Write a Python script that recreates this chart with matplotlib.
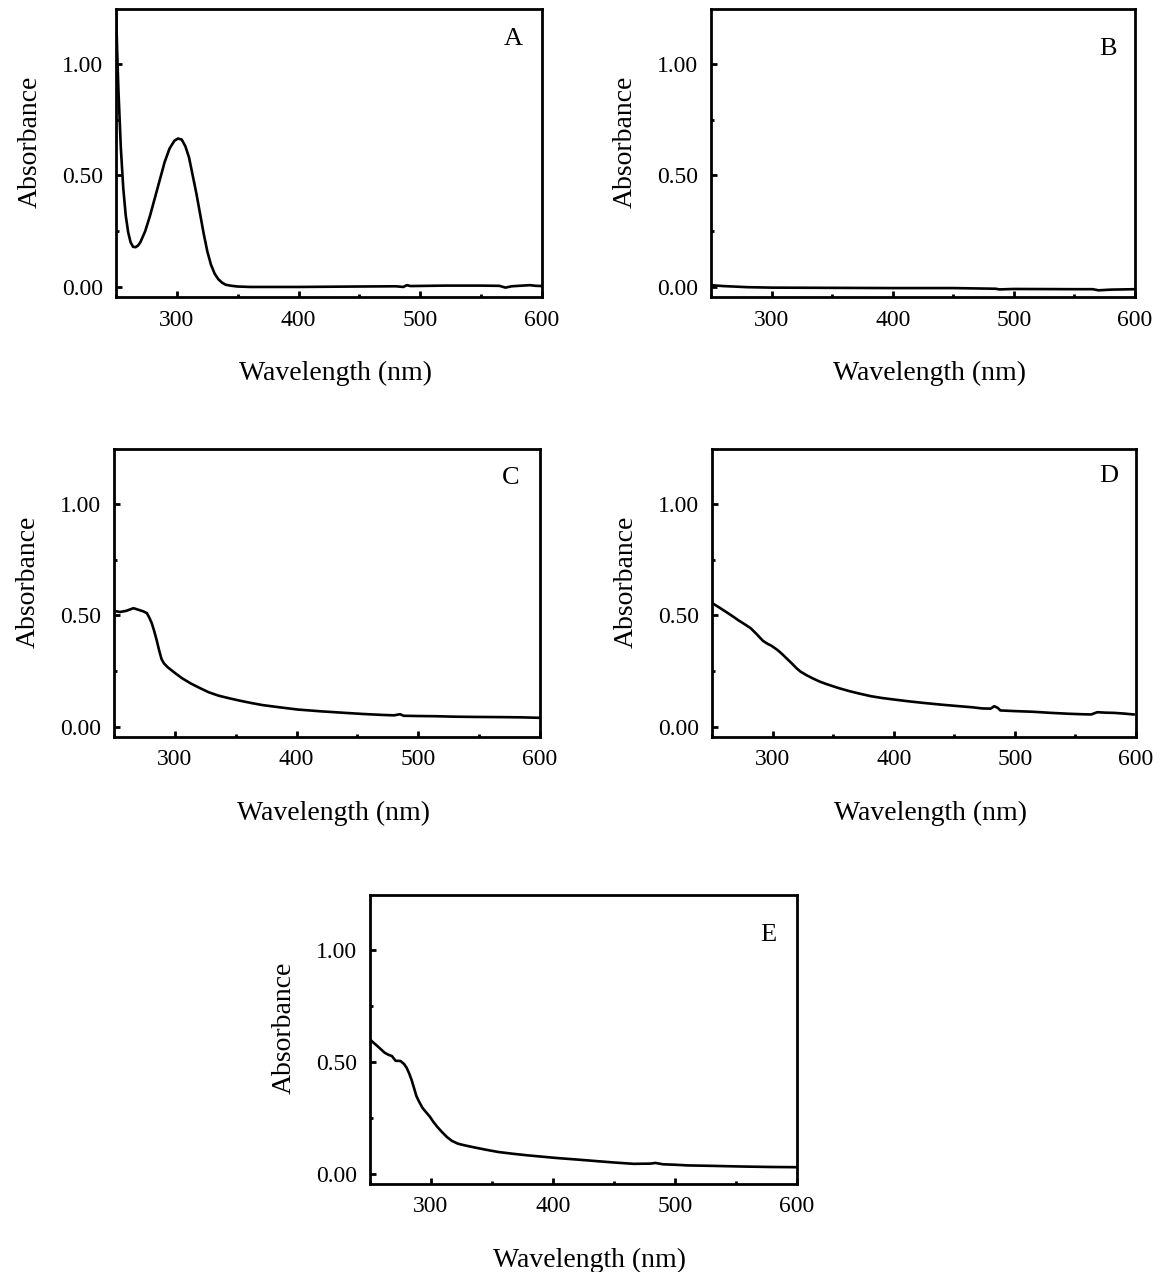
import matplotlib
matplotlib.use("Agg")
import matplotlib.pyplot as plt
from matplotlib.ticker import MultipleLocator, FormatStrFormatter

plt.rcParams['font.family'] = ['Liberation Serif', 'DejaVu Serif']

# ---- Data ----
wl_a = [250, 251, 252, 254, 256, 258, 260, 262, 264, 266, 268, 270, 274, 278, 282, 286,
        290, 294, 298, 301, 304, 307, 310, 313, 316, 319, 322, 325, 328, 331, 334, 337,
        340, 345, 350, 360, 400, 450, 480, 486, 489, 492, 520, 550, 565, 570, 575, 590, 595, 600]
abs_a = [1.25, 1.05, 0.88, 0.62, 0.44, 0.32, 0.245, 0.20, 0.18, 0.178, 0.185, 0.20, 0.25, 0.32,
         0.40, 0.48, 0.56, 0.62, 0.655, 0.665, 0.66, 0.63, 0.58, 0.50, 0.42, 0.33, 0.24, 0.16,
         0.10, 0.06, 0.035, 0.02, 0.01, 0.005, 0.002, 0.0, 0.0, 0.002, 0.003, 0.0, 0.008, 0.004,
         0.006, 0.006, 0.005, -0.003, 0.003, 0.008, 0.005, 0.004]

wl_b = [250, 260, 280, 300, 350, 400, 450, 485, 488, 500, 550, 565, 570, 580, 600]
abs_b = [0.008, 0.004, -0.001, -0.003, -0.004, -0.005, -0.005, -0.008, -0.011, -0.009,
         -0.010, -0.010, -0.015, -0.012, -0.010]

wl_c = [250, 255, 260, 264, 266, 270, 274, 277, 279, 281, 283, 285, 287, 289, 291, 294, 297,
        301, 306, 313, 321, 328, 336, 345, 354, 363, 372, 386, 401, 420, 440, 455, 470, 480,
        485, 488, 500, 515, 530, 545, 570, 585, 599]
abs_c = [0.52, 0.515, 0.52, 0.528, 0.532, 0.525, 0.518, 0.51, 0.49, 0.465, 0.43, 0.39, 0.345,
         0.305, 0.285, 0.268, 0.255, 0.238, 0.218, 0.195, 0.173, 0.155, 0.140, 0.128, 0.117,
         0.107, 0.098, 0.088, 0.078, 0.070, 0.063, 0.058, 0.054, 0.052, 0.057, 0.050, 0.049,
         0.048, 0.046, 0.045, 0.044, 0.043, 0.041]

wl_d = [251, 256, 262, 267, 272, 277, 282, 287, 292, 296, 299, 304, 308, 312, 316, 320, 323,
        328, 333, 339, 345, 354, 363, 372, 381, 390, 400, 412, 424, 439, 454, 465, 473, 480,
        483, 486, 488, 500, 515, 530, 545, 555, 563, 568, 575, 582, 590, 598]
abs_d = [0.552, 0.535, 0.514, 0.496, 0.477, 0.46, 0.442, 0.415, 0.386, 0.372, 0.364, 0.345,
         0.326, 0.305, 0.284, 0.262, 0.248, 0.232, 0.218, 0.203, 0.191, 0.175, 0.161, 0.149,
         0.138, 0.130, 0.123, 0.115, 0.108, 0.100, 0.093, 0.088, 0.083, 0.082, 0.093, 0.085,
         0.074, 0.071, 0.068, 0.063, 0.059, 0.057, 0.056, 0.066, 0.064, 0.063, 0.060, 0.056]

wl_e = [250, 253, 256, 259, 262, 265, 268, 271, 275, 278, 280, 282, 284, 286, 288, 290, 293,
        296, 299, 302, 305, 309, 313, 317, 322, 328, 334, 345, 355, 367, 379, 391, 403, 420,
        436, 450, 466, 480, 484, 490, 500, 510, 530, 555, 578, 600]
abs_e = [0.60, 0.585, 0.571, 0.556, 0.541, 0.532, 0.526, 0.505, 0.504, 0.49, 0.474, 0.45,
         0.421, 0.385, 0.348, 0.325, 0.295, 0.275, 0.256, 0.232, 0.211, 0.187, 0.165, 0.148,
         0.135, 0.127, 0.12, 0.108, 0.098, 0.090, 0.083, 0.077, 0.071, 0.064, 0.057, 0.051,
         0.045, 0.046, 0.049, 0.043, 0.041, 0.038, 0.036, 0.033, 0.031, 0.030]

panel_letters = ['A', 'B', 'C', 'D', 'E']
series = [(wl_a, abs_a), (wl_b, abs_b), (wl_c, abs_c), (wl_d, abs_d), (wl_e, abs_e)]
x_ticks = [300, 400, 500, 600]
y_ticks = [0.0, 0.5, 1.0]

# ---- Layout ----
W, H = 1170, 1272
fig = plt.figure(figsize=(W / 100, H / 100), dpi=100)

# axes boxes in pixels: left, top, right, bottom
boxes = [(116, 9, 542, 297), (711, 9, 1135, 297),
         (114, 449, 540, 737), (712, 449, 1136, 737),
         (370, 895, 797, 1184)]
letter_pos = [(0.932, 0.895), (0.936, 0.862), (0.932, 0.900), (0.936, 0.905), (0.932, 0.862)]

for (l, t, r, b), (xs, ys), letter, lp in zip(boxes, series, panel_letters, letter_pos):
    ax = fig.add_axes([l / W, 1 - b / H, (r - l) / W, (b - t) / H])
    ax.plot(xs, ys, color='black', lw=1.9, solid_joinstyle='round')
    ax.set_xlim(250, 600)
    ax.set_ylim(-0.045, 1.245)
    ax.set_xticks(x_ticks)
    ax.set_yticks(y_ticks)
    ax.xaxis.set_minor_locator(MultipleLocator(50))
    ax.yaxis.set_minor_locator(MultipleLocator(0.25))
    ax.yaxis.set_major_formatter(FormatStrFormatter('%.2f'))
    ax.tick_params(which='both', direction='in', top=False, right=False,
                   labelsize=17, width=2, pad=9, colors='black')
    ax.tick_params(which='major', length=4.5)
    ax.tick_params(which='minor', length=2.5)
    for sp in ax.spines.values():
        sp.set_linewidth(2.0)
    ax.set_xlabel('Wavelength (nm)', fontsize=20, labelpad=22, x=0.515)
    ax.set_ylabel('Absorbance', fontsize=20, labelpad=14, y=0.54)
    ax.text(lp[0], lp[1], letter, transform=ax.transAxes, fontsize=19,
            ha='center', va='center')

fig.savefig('out.png', dpi=100)
